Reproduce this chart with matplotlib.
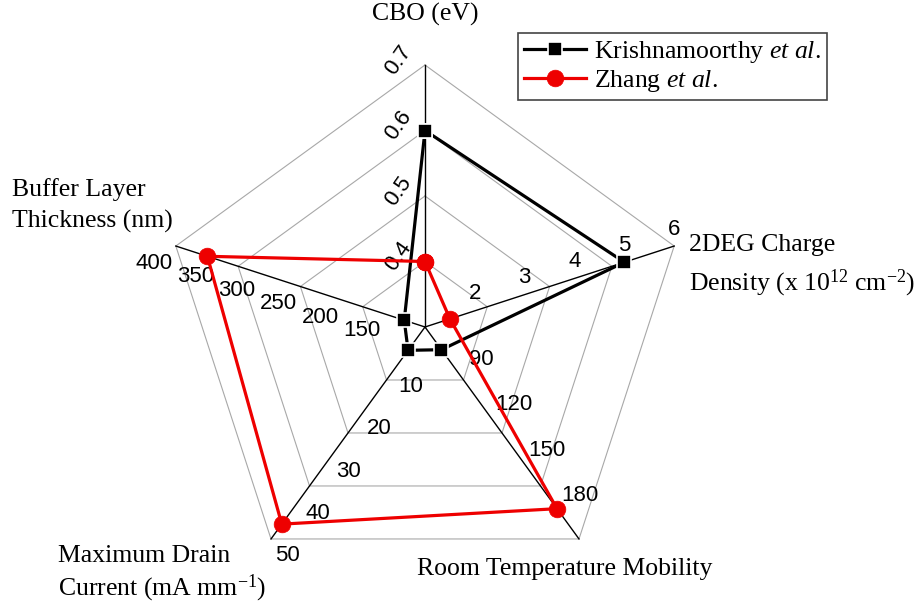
import numpy as np
import matplotlib
matplotlib.use('Agg')
import matplotlib.pyplot as plt

plt.rcParams['mathtext.fontset'] = 'custom'
plt.rcParams['mathtext.rm'] = 'Liberation Serif'
plt.rcParams['mathtext.it'] = 'Liberation Serif:italic'

# axis order goes clockwise from the top
axis_names = ['CBO', '2DEG', 'Mobility', 'Drain', 'Buffer']
axis_min = [0.3, 1, 60, 0, 100]
axis_max = [0.7, 6, 200, 50, 400]
axis_ticks = [
    [0.4, 0.5, 0.6, 0.7],
    [2, 3, 4, 5, 6],
    [90, 120, 150, 180],
    [10, 20, 30, 40, 50],
    [150, 200, 250, 300, 350, 400],
]
tick_fmt = ['{:.1f}', '{:d}', '{:d}', '{:d}', '{:d}']

krishnamoorthy = [0.6, 5, 75, 5.5, 125]
zhang = [0.4, 1.5, 180, 46.5, 362]

SERIF = 'Liberation Serif'
SANS = 'Liberation Sans'
R = 262.0  # outer radius in pixels
CX, CY = 425, 327

n = len(axis_names)
angles = np.pi / 2 - np.arange(n) * 2 * np.pi / n


def to_xy(vals):
    f = [(v - lo) / (hi - lo) for v, lo, hi in zip(vals, axis_min, axis_max)]
    f = np.array(f + f[:1])
    a = np.concatenate([angles, angles[:1]])
    return f * R * np.cos(a), f * R * np.sin(a)


fig = plt.figure(figsize=(9.21, 6.05), dpi=100)
ax = fig.add_axes([0, 0, 1, 1])
ax.set_xlim(-CX, 921 - CX)
ax.set_ylim(-(605 - CY), CY)
ax.set_aspect('equal')
ax.axis('off')

# pentagon grid
a_closed = np.concatenate([angles, angles[:1]])
for lvl in [0.25, 0.5, 0.75, 1.0]:
    ax.plot(lvl * R * np.cos(a_closed), lvl * R * np.sin(a_closed),
            color='#a8a8a8', lw=0.8, zorder=1)
for a in angles:
    ax.plot([0, R * np.cos(a)], [0, R * np.sin(a)], color='black', lw=1.0, zorder=2)

# tick labels, offsets in pixels per axis
offsets = [(-27, 5), (0, 17), (23, 13), (16, -17), (-22, -17)]
for i in range(n):
    for t in axis_ticks[i]:
        f = (t - axis_min[i]) / (axis_max[i] - axis_min[i])
        x = f * R * np.cos(angles[i]) + offsets[i][0]
        y = f * R * np.sin(angles[i]) + offsets[i][1]
        rot = 55 if i == 0 else 0
        ax.text(x, y, tick_fmt[i].format(t), ha='center', va='center',
                fontsize=16, family=SANS, rotation=rot, zorder=3)

# data
kx, ky = to_xy(krishnamoorthy)
zx, zy = to_xy(zhang)
ax.plot(kx, ky, color='black', lw=2.3, marker='s', ms=10, mfc='black',
        mec='white', mew=1.2, label=r'Krishnamoorthy $\mathit{et\ al}$.', zorder=4)
ax.plot(zx, zy, color='#ee0000', lw=2.3, marker='o', ms=12, mfc='#ee0000',
        mec='#ee0000', mew=0.5, label=r'Zhang $\mathit{et\ al}$.', zorder=5)

# axis titles
fs = 18.5
ax.text(0, CY - 14, 'CBO (eV)', ha='center', va='center', fontsize=fs, family=SERIF)
ax.text(689 - CX, CY - 245, '2DEG Charge', ha='left', va='center', fontsize=fs, family=SERIF)
ax.text(689 - CX, CY - 283, r'Density (x 10$^{12}$ cm$^{-2}$)', ha='left', va='center',
        fontsize=fs, family=SERIF)
ax.text(565 - CX, CY - 569, 'Room Temperature Mobility', ha='center', va='center',
        fontsize=fs, family=SERIF)
ax.text(58 - CX, CY - 556, 'Maximum Drain', ha='left', va='center', fontsize=fs, family=SERIF)
ax.text(58 - CX, CY - 588, r'Current (mA mm$^{-1}$)', ha='left', va='center',
        fontsize=fs, family=SERIF)
ax.text(12 - CX, CY - 190, 'Buffer Layer', ha='left', va='center', fontsize=fs, family=SERIF)
ax.text(12 - CX, CY - 221, 'Thickness (nm)', ha='left', va='center', fontsize=fs, family=SERIF)

leg = ax.legend(loc='upper right', bbox_to_anchor=(827 / 921, 1 - 33 / 605),
                bbox_transform=fig.transFigure, borderaxespad=0, fancybox=False,
                framealpha=1, edgecolor='#444444', handlelength=2.4,
                prop={'family': SERIF, 'size': fs}, labelspacing=0.1,
                borderpad=0.25, handletextpad=0.3)
leg.get_frame().set_linewidth(1.2)

fig.savefig('out.png', dpi=100)
